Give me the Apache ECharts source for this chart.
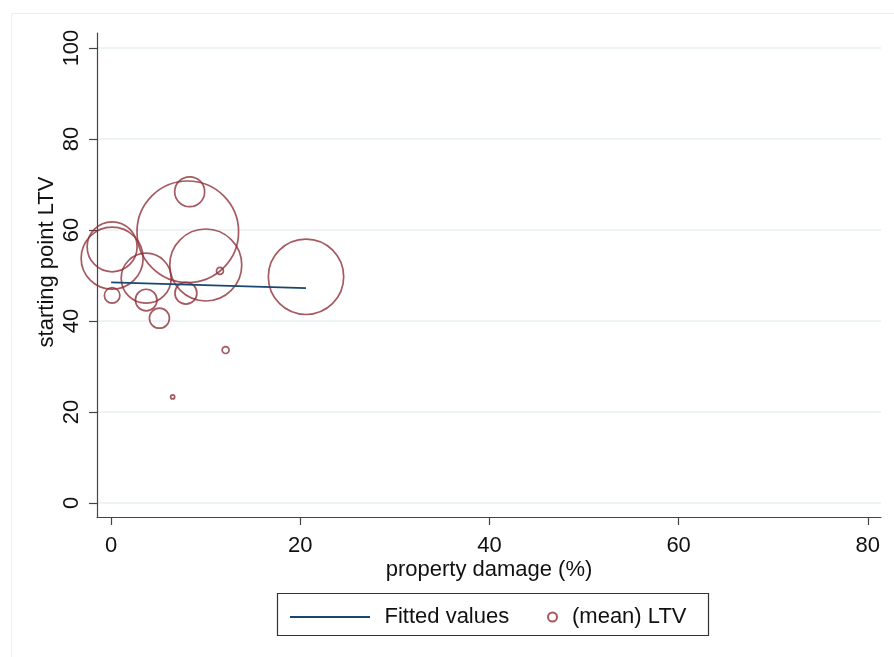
<!DOCTYPE html>
<html><head><meta charset="utf-8">
<script src="https://cdn.jsdelivr.net/npm/echarts@6/dist/echarts.min.js"></script>
<style>html,body{margin:0;padding:0;background:#fff}#c{width:894px;height:657px}</style>
</head><body><div id="c"></div>
<script>
// Data
var damage = [8.1, 8.3, 0.1, 0.1, 3.7, 10.0, 11.5, 20.6, 0.1, 3.7, 7.9, 5.1, 12.1, 6.5];
var ltv    = [59.6, 68.4, 56.3, 53.8, 49.4, 52.3, 51.0, 49.7, 45.6, 44.6, 46.1, 40.6, 33.6, 23.3];
var weight = [645, 56, 156, 240, 156, 324, 3, 355, 15, 29, 30, 25, 3, 1];
var fitX = [0, 20.6];
var fitY = [48.5, 47.2];
var xTicks = [0, 20, 40, 60, 80];
var yTicks = [0, 20, 40, 60, 80, 100];

var FONT = 'Liberation Sans, Arial, sans-serif';
var FS = 22;
var TXT = '#111';
var chart = echarts.init(document.getElementById('c'));
var scatterData = damage.map(function (d, i) { return [d, ltv[i], weight[i]]; });
var fitData = fitX.map(function (d, i) { return [d, fitY[i]]; });

chart.setOption({
  backgroundColor: '#fff',
  animation: false,
  graphic: [
    { type: 'rect', left: 9, top: 11, shape: { width: 884, height: 645 }, style: { fill: 'none', stroke: '#eeeeee', lineWidth: 1 }, silent: true },
    { type: 'rect', left: 275, top: 591, shape: { width: 431, height: 42 }, style: { fill: 'none', stroke: '#333', lineWidth: 1.2 }, silent: true }
  ],
  grid: { left: 97, right: 13, top: 33, bottom: 140, containLabel: false },
  xAxis: {
    type: 'value', min: -1.5, max: 81.4,
    name: 'property damage (%)', nameLocation: 'middle', nameGap: 42, nameMoveOverlap: false,
    nameTextStyle: { fontFamily: FONT, fontSize: FS, color: TXT },
    axisLine: { show: true, onZero: false, lineStyle: { color: '#444', width: 1.2 } },
    axisTick: { show: true, length: 8, customValues: xTicks, lineStyle: { color: '#444', width: 1.2 } },
    axisLabel: { customValues: xTicks, fontFamily: FONT, fontSize: FS, color: TXT, margin: 18 },
    splitLine: { show: false }
  },
  yAxis: {
    type: 'value', min: -3.1, max: 103.3,
    name: 'starting point LTV', nameLocation: 'middle', nameGap: 39, nameMoveOverlap: false,
    nameTextStyle: { fontFamily: FONT, fontSize: FS, color: TXT, padding: [0, 0, 0, 26] },
    axisLine: { show: true, onZero: false, lineStyle: { color: '#444', width: 1.2 } },
    axisTick: { show: true, length: 8, customValues: yTicks, lineStyle: { color: '#444', width: 1.2 } },
    axisLabel: { customValues: yTicks, rotate: 90, fontFamily: FONT, fontSize: FS, color: TXT, margin: 14 },
    splitLine: { show: true, lineStyle: { color: '#e8f0f2', width: 1.5 } }
  },
  legend: [
    { data: [{ name: 'Fitted values', icon: 'path://M0,0H80V2H0Z' }], left: 285, top: 601, itemWidth: 85, itemHeight: 2, itemGap: 0,
      textStyle: { fontFamily: FONT, fontSize: FS, color: TXT, padding: [0, 0, 0, 7] }, selectedMode: false },
    { data: ['(mean) LTV'], left: 542, top: 601, itemWidth: 9, itemHeight: 9, itemGap: 0,
      textStyle: { fontFamily: FONT, fontSize: FS, color: TXT, padding: [0, 0, 0, 10] }, selectedMode: false }
  ],
  series: [
    {
      name: 'Fitted values', type: 'line', data: fitData, symbol: 'none', silent: true,
      lineStyle: { color: '#1a476f', width: 1.8 }, itemStyle: { color: '#1a476f' }, z: 3
    },
    {
      name: '(mean) LTV', type: 'scatter', data: scatterData,
      symbolSize: function (v) { return 4 * Math.sqrt(v[2]); },
      itemStyle: { color: 'rgba(0,0,0,0)', borderColor: '#8f3038', borderWidth: 1.7 }, z: 2
    }
  ]
});
</script></body></html>
